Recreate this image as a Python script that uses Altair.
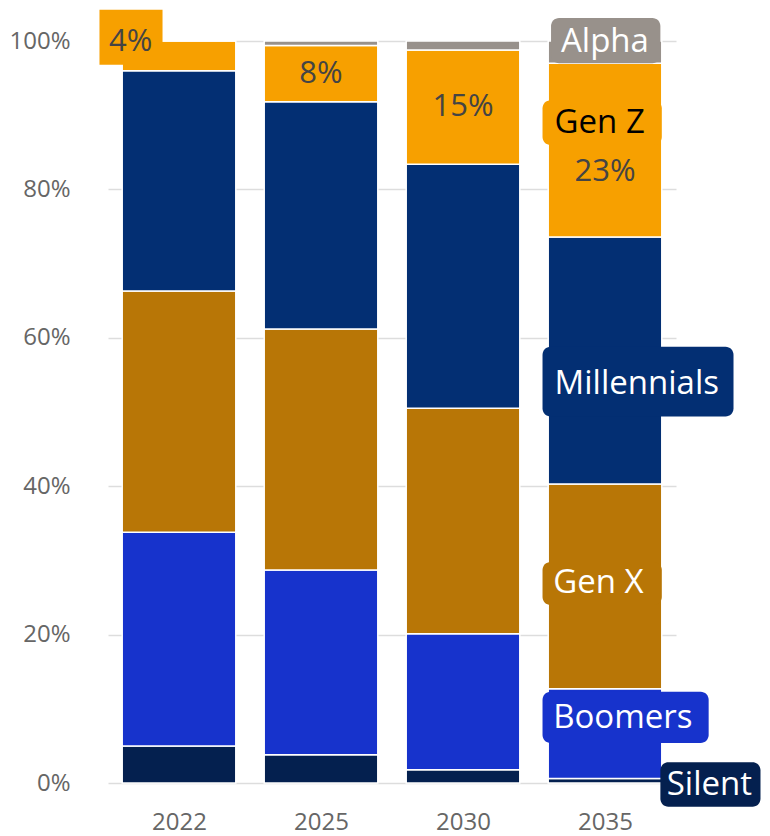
import altair as alt
import pandas as pd

# ---------------- data ----------------
years = ["2022", "2025", "2030", "2035"]
series = ["Silent", "Boomers", "Gen X", "Millennials", "Gen Z", "Alpha"]
silent = [5.0, 3.8, 1.8, 0.6]
boomers = [28.8, 24.9, 18.3, 12.1]
gen_x = [32.5, 32.5, 30.4, 27.6]
millennials = [29.7, 30.6, 32.9, 33.3]
gen_z = [4.0, 7.6, 15.4, 23.4]
alpha = [0.0, 0.6, 1.2, 3.0]
y_ticks = [0, 20, 40, 60, 80, 100]

# ---------------- style ----------------
FONT = "Open Sans"
colors = ["#04204f", "#1733cc", "#b87606", "#032f73", "#f7a000", "#98918b"]
label_text_colors = ["#ffffff", "#ffffff", "#ffffff", "#ffffff", "#000000", "#ffffff"]
BAR_HALF = 0.4

values = [silent, boomers, gen_x, millennials, gen_z, alpha]

rows = []
for i, yr in enumerate(years):
    base = 0.0
    for s, vals in zip(series, values):
        v = vals[i]
        rows.append({"year": yr, "series": s, "x0": i - BAR_HALF, "x1": i + BAR_HALF,
                     "y0": base, "y1": base + v, "value": v})
        base += v
bars_df = pd.DataFrame(rows)

# percent labels for Gen Z
genz = bars_df[bars_df.series == "Gen Z"].reset_index(drop=True)
pct_rows = []
pct_y_shift = [0.0, 0.0, 0.0, -3.0]
for i, r in genz.iterrows():
    mid = (r.y0 + r.y1) / 2 + pct_y_shift[i]
    x = float(i)
    if i == 0:  # small segment: label sits left of the bar on its own box
        x = -0.34
        mid = 99.8
    pct_rows.append({"x": x, "y": mid, "label": f"{round(r.value):.0f}%"})
pct_df = pd.DataFrame(pct_rows)
pct_box_df = pd.DataFrame([{"x0": -0.56, "x1": -0.116, "y0": 96.8, "y1": 104.2}])

# series labels beside the 2035 bar (layout in axis units)
label_layout = {
    "Alpha":       (2.62, 3.39, 97.0, 103.1, 99.9, 0.07),
    "Gen Z":       (2.56, 3.40, 86.0, 92.0, 88.9, 0.085),
    "Millennials": (2.56, 3.905, 49.4, 58.8, 53.8, 0.085),
    "Gen X":       (2.56, 3.40, 24.0, 29.8, 26.9, 0.075),
    "Boomers":     (2.56, 3.73, 5.4, 12.3, 8.7, 0.075),
    "Silent":      (3.39, 4.095, -3.2, 2.8, -0.3, 0.045),
}
lab_rows = []
for s, tc in zip(series, label_text_colors):
    x0, x1, y0, y1, yc, pad = label_layout[s]
    lab_rows.append({"series": s, "x0": x0, "x1": x1, "y0": y0, "y1": y1,
                     "yc": yc, "xt": x0 + pad, "tcolor": tc})
lab_df = pd.DataFrame(lab_rows)

# ---------------- scales / axes ----------------
xs = alt.Scale(domain=[-0.5, 3.5], nice=False, zero=False)
ys = alt.Scale(domain=[0, 100], nice=False, zero=False)
cs = alt.Scale(domain=series, range=colors)

x_axis = alt.Axis(values=[0, 1, 2, 3],
                  labelExpr="['2022','2025','2030','2035'][datum.value]",
                  grid=False, domain=False, ticks=False, title=None,
                  labelFont=FONT, labelFontSize=24, labelColor="#666666",
                  labelPadding=27)
y_axis = alt.Axis(values=y_ticks, labelExpr="datum.value + '%'",
                  grid=True, gridColor="#dddddd", gridWidth=1.5,
                  domain=False, ticks=False, title=None,
                  labelFont=FONT, labelFontSize=24, labelColor="#666666",
                  labelPadding=38)

bars = alt.Chart(bars_df).mark_rect(stroke="white", strokeWidth=1.5).encode(
    x=alt.X("x0:Q", scale=xs, axis=x_axis),
    x2="x1:Q",
    y=alt.Y("y0:Q", scale=ys, axis=y_axis),
    y2="y1:Q",
    color=alt.Color("series:N", scale=cs, legend=None),
)

pct_box = alt.Chart(pct_box_df).mark_rect(color=colors[4]).encode(
    x=alt.X("x0:Q", scale=xs, axis=x_axis),
    x2="x1:Q",
    y=alt.Y("y0:Q", scale=ys, axis=y_axis),
    y2="y1:Q",
)

pct_text = alt.Chart(pct_df).mark_text(
    font=FONT, fontSize=31, color="#444444", baseline="middle", align="center"
).encode(
    x=alt.X("x:Q", scale=xs, axis=x_axis),
    y=alt.Y("y:Q", scale=ys, axis=y_axis),
    text="label:N",
)

lab_box = alt.Chart(lab_df).mark_rect(cornerRadius=8).encode(
    x=alt.X("x0:Q", scale=xs, axis=x_axis),
    x2="x1:Q",
    y=alt.Y("y0:Q", scale=ys, axis=y_axis),
    y2="y1:Q",
    color=alt.Color("series:N", scale=cs, legend=None),
)

lab_text = alt.Chart(lab_df).mark_text(
    font=FONT, fontSize=33, baseline="middle", align="left"
).encode(
    x=alt.X("xt:Q", scale=xs, axis=x_axis),
    y=alt.Y("yc:Q", scale=ys, axis=y_axis),
    text="series:N",
    color=alt.Color("tcolor:N", scale=None, legend=None),
)

chart = alt.layer(bars, pct_box, pct_text, lab_box, lab_text).properties(
    width=568, height=742,
    autosize=alt.AutoSizeParams(type="none"),
    padding={"left": 108, "top": 41, "right": 94, "bottom": 53},
    background="white",
).configure_view(stroke=None)

chart.save("out.html", embed_options={"renderer": "svg", "actions": False})
